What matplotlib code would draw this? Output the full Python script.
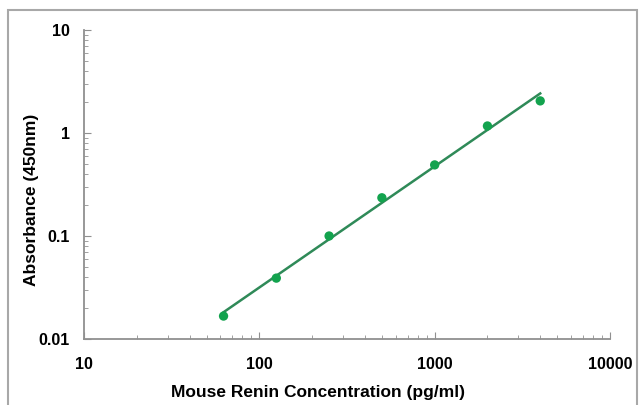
import numpy as np
import matplotlib
matplotlib.use("Agg")
import matplotlib.pyplot as plt
from matplotlib.ticker import LogLocator, FixedLocator, NullFormatter, FixedFormatter
from matplotlib.patches import Rectangle

conc = [62.5, 125, 250, 500, 1000, 2000, 4000]
absorb = [0.0167, 0.039, 0.100, 0.235, 0.49, 1.17, 2.05]
x_ticks = [10, 100, 1000, 10000]
x_labels = ["10", "100", "1000", "10000"]
y_ticks = [0.01, 0.1, 1, 10]
y_labels = ["0.01", "0.1", "1", "10"]

plt.rcParams['font.family'] = ['Liberation Sans', 'DejaVu Sans']

fig = plt.figure(figsize=(6.39, 4.05), dpi=100)
fig.patches.append(Rectangle((8/639, -0.01), (637-8)/639, 1 - 10/405 + 0.01,
                             transform=fig.transFigure, fill=False,
                             edgecolor='#a8a8a8', linewidth=1.5))
ax = fig.add_axes([84/639, 1-339/405, (610-84)/639, (339-30)/405])

lx = np.log10(conc)
ly = np.log10(absorb)
k, b = np.polyfit(lx, ly, 1)
xf = np.array([conc[0], conc[-1]])
ax.plot(xf, 10**(k*np.log10(xf)+b), color='#2f8a58', lw=1.8, zorder=2)
ax.scatter(conc, absorb, s=45, color='#13a34e', zorder=3, edgecolors='none')

ax.set_xscale('log')
ax.set_yscale('log')
ax.set_xlim(10, 10000)
ax.set_ylim(0.01, 10)

ax.xaxis.set_major_locator(FixedLocator(x_ticks))
ax.xaxis.set_major_formatter(FixedFormatter(x_labels))
ax.yaxis.set_major_locator(FixedLocator(y_ticks))
ax.yaxis.set_major_formatter(FixedFormatter(y_labels))
ax.xaxis.set_minor_locator(LogLocator(base=10, subs=np.arange(2, 10)))
ax.yaxis.set_minor_locator(LogLocator(base=10, subs=np.arange(2, 10)))
ax.xaxis.set_minor_formatter(NullFormatter())
ax.yaxis.set_minor_formatter(NullFormatter())

for s in ['top', 'right']:
    ax.spines[s].set_visible(False)
for s in ['left', 'bottom']:
    ax.spines[s].set_color('#909090')
    ax.spines[s].set_linewidth(1.3)

ax.tick_params(axis='both', which='major', direction='in', length=5, color='#909090',
               labelsize=11.5)
ax.tick_params(axis='both', which='minor', direction='in', length=3, color='#909090')
ax.tick_params(axis='x', which='major', pad=13)
ax.tick_params(axis='y', which='major', pad=10)
for lab in ax.get_xticklabels() + ax.get_yticklabels():
    lab.set_fontweight('bold')

ax.set_xlabel('Mouse Renin Concentration (pg/ml)', fontsize=12.5, fontweight='bold')
ax.set_ylabel('Absorbance (450nm)', fontsize=12.5, fontweight='bold')
ax.xaxis.set_label_coords((318-84)/526, -(393-339)/309)
ax.xaxis.label.set_verticalalignment('center')
ax.yaxis.set_label_coords((32-84)/526, (339-200)/309)
ax.yaxis.label.set_verticalalignment('center')

fig.savefig('out.png', dpi=100)
